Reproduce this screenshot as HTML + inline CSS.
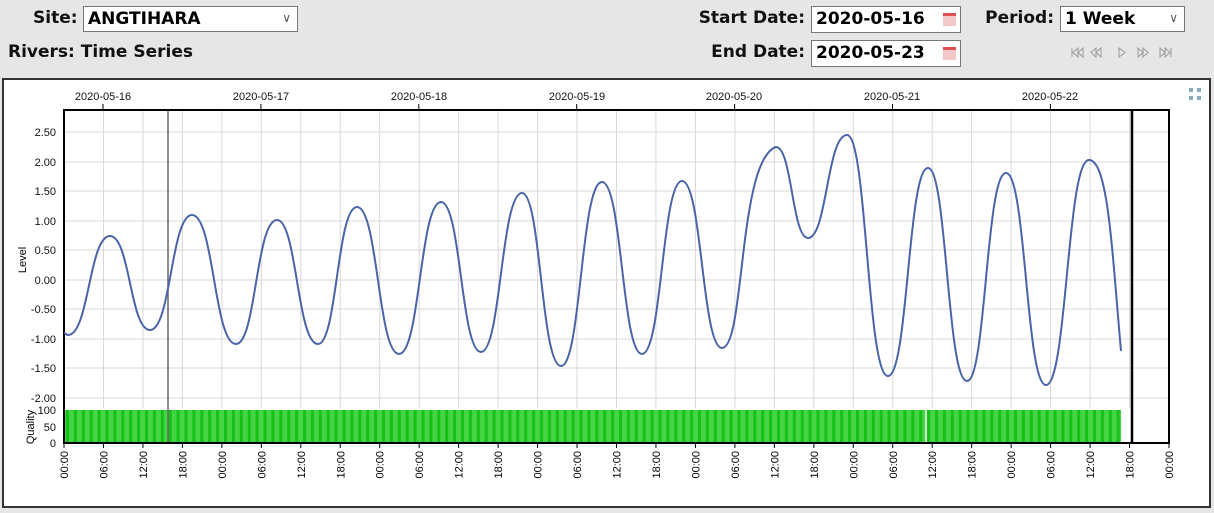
<!DOCTYPE html>
<html><head><meta charset="utf-8"><style>
body{margin:0;width:1214px;height:513px;background:#e6e6e6;font-family:"DejaVu Sans","Liberation Sans",sans-serif;position:relative;overflow:hidden}
.l{position:absolute;font-weight:bold;font-size:17px;color:#111;white-space:nowrap}
.box{position:absolute;background:#fff;border:1px solid #777;box-sizing:border-box;font-weight:bold;font-size:17px;padding:2px 4px;color:#000;white-space:nowrap}
.cal{position:absolute;right:4px;top:6px;width:13px;height:13px;background:#f4c8c8;border-top:3px solid #e05050;box-sizing:border-box}
.chev{position:absolute;right:6px;top:4px;font-size:12px;font-weight:normal;color:#555}
</style></head><body>
<div class="l" style="left:33px;top:8px">Site:</div>
<div class="box" style="left:83px;top:6px;width:215px;height:26px">ANGTIHARA<span class="chev">&#8744;</span></div>
<div class="l" style="left:8px;top:42px">Rivers: Time Series</div>
<div class="l" style="right:409px;top:8px">Start Date:</div>
<div class="box" style="left:811px;top:6px;width:150px;height:27px">2020-05-16<span class="cal"></span></div>
<div class="l" style="right:409px;top:42px">End Date:</div>
<div class="box" style="left:811px;top:40px;width:150px;height:27px">2020-05-23<span class="cal"></span></div>
<div class="l" style="right:160px;top:8px">Period:</div>
<div class="box" style="left:1060px;top:6px;width:125px;height:26px">1 Week<span class="chev">&#8744;</span></div>
<svg style="position:absolute;left:1070px;top:47px" width="110" height="12" fill="none" stroke="#999" stroke-width="1">
<path d="M2,1V10 M8,1L3,5.5L8,10Z M13,1L8,5.5L13,10Z"/>
<path d="M26,1L21,5.5L26,10Z M31,1L26,5.5L31,10Z"/>
<path d="M49,1L55,5.5L49,10Z"/>
<path d="M68,1L73,5.5L68,10Z M73,1L78,5.5L73,10Z"/>
<path d="M90,1L95,5.5L90,10Z M95,1L100,5.5L95,10Z M101,1V10"/>
</svg>
<svg style="position:absolute;left:0;top:0" width="1214" height="513" font-family="Liberation Sans, sans-serif">
<defs><pattern id="st" width="7.9" height="40" patternUnits="userSpaceOnUse" x="64">
<rect width="7.9" height="40" fill="#44d444"/><rect x="2" width="3" height="40" fill="#16c016"/></pattern></defs>
<rect x="3" y="79" width="1207" height="428" fill="#fff" stroke="#333" stroke-width="2"/>
<g stroke="#d8d8d8" stroke-width="1">
<line x1="64" x2="1169" y1="132" y2="132"/><line x1="64" x2="1169" y1="162" y2="162"/><line x1="64" x2="1169" y1="191" y2="191"/><line x1="64" x2="1169" y1="221" y2="221"/><line x1="64" x2="1169" y1="250" y2="250"/><line x1="64" x2="1169" y1="280" y2="280"/><line x1="64" x2="1169" y1="309" y2="309"/><line x1="64" x2="1169" y1="339" y2="339"/><line x1="64" x2="1169" y1="368" y2="368"/><line x1="64" x2="1169" y1="398" y2="398"/>
</g>
<g stroke="#d8d8d8" id="vlines"></g>
<rect x="64" y="410" width="1057" height="33" fill="url(#st)"/>
<line x1="926" x2="926" y1="410" y2="443" stroke="#fff" stroke-width="1.5"/>
<line x1="168" x2="168" y1="110" y2="443" stroke="#666" stroke-width="1.5"/>
<line x1="1132" x2="1132" y1="110" y2="443" stroke="#000" stroke-width="2.5"/>
<rect x="64" y="110" width="1105" height="333" fill="none" stroke="#000" stroke-width="2"/>
<path fill="none" stroke="#4a64a8" stroke-width="2" d="M64,333 C66,333 66,335 68,335 C89,335 89,236 110,236 C130,236 130,330 150,330 C171,330 171,215 192,215 C214,215 214,344 236,344 C256,344 256,220 277,220 C297,220 297,344 318,344 C337,344 337,207 357,207 C378,207 378,354 399,354 C420,354 420,202 441,202 C461,202 461,352 481,352 C501,352 501,193 522,193 C541,193 541,366 561,366 C581,366 581,182 602,182 C622,182 622,354 642,354 C662,354 662,181 682,181 C702,181 702,348 722,348 C745,348 738,160 776,147 C792,147 792,238 808,238 C827,238 827,135 847,135 C867,135 867,376 888,376 C908,376 908,168 928,168 C947,168 947,381 967,381 C986,381 986,173 1006,173 C1026,173 1026,385 1046,385 C1067,385 1067,160 1089,160 C1108,160 1112,250 1121,351"/>
<g font-size="11" fill="#111" text-anchor="end">
<text x="56" y="136">2.50</text><text x="56" y="166">2.00</text><text x="56" y="195">1.50</text><text x="56" y="225">1.00</text><text x="56" y="254">0.50</text><text x="56" y="284">0.00</text><text x="56" y="313">-0.50</text><text x="56" y="343">-1.00</text><text x="56" y="372">-1.50</text><text x="56" y="402">-2.00</text>
<text x="56" y="414">100</text><text x="56" y="431">50</text><text x="56" y="447">0</text>
</g>
<text transform="translate(26,260) rotate(-90)" font-size="11" text-anchor="middle">Level</text>
<text transform="translate(34,427) rotate(-90)" font-size="11" text-anchor="middle">Quality</text>
<g font-size="11" text-anchor="middle" fill="#111">
<text x="103" y="100">2020-05-16</text><text x="261" y="100">2020-05-17</text><text x="419" y="100">2020-05-18</text><text x="577" y="100">2020-05-19</text><text x="734" y="100">2020-05-20</text><text x="892" y="100">2020-05-21</text><text x="1050" y="100">2020-05-22</text>
</g>
<g fill="#8ab"><rect x="1189" y="88" width="4" height="4"/><rect x="1197" y="88" width="4" height="4"/><rect x="1189" y="96" width="4" height="4"/><rect x="1197" y="96" width="4" height="4"/></g>
<g id="bt"></g>
</svg>
<script>
var ns="http://www.w3.org/2000/svg",bt=document.getElementById("bt"),vl=document.getElementById("vlines");
var labs=["00:00","06:00","12:00","18:00"];
for(var i=0;i<=28;i++){var x=64+i*1105/28;
 if(i>0&&i<28){var l=document.createElementNS(ns,"line");l.setAttribute("x1",x);l.setAttribute("x2",x);l.setAttribute("y1",111);l.setAttribute("y2",408);vl.appendChild(l);}
 var t=document.createElementNS(ns,"line");t.setAttribute("x1",x);t.setAttribute("x2",x);t.setAttribute("y1",443);t.setAttribute("y2",448);t.setAttribute("stroke","#000");bt.appendChild(t);
 var tx=document.createElementNS(ns,"text");tx.setAttribute("transform","translate("+(x+4)+",451) rotate(-90)");tx.setAttribute("font-size","11");tx.setAttribute("text-anchor","end");tx.textContent=labs[i%4];bt.appendChild(tx);}
for(var d=0;d<7;d++){var x=103+d*157.9;var t=document.createElementNS(ns,"line");t.setAttribute("x1",x);t.setAttribute("x2",x);t.setAttribute("y1",104);t.setAttribute("y2",110);t.setAttribute("stroke","#000");bt.appendChild(t);}
</script>
</body></html>
